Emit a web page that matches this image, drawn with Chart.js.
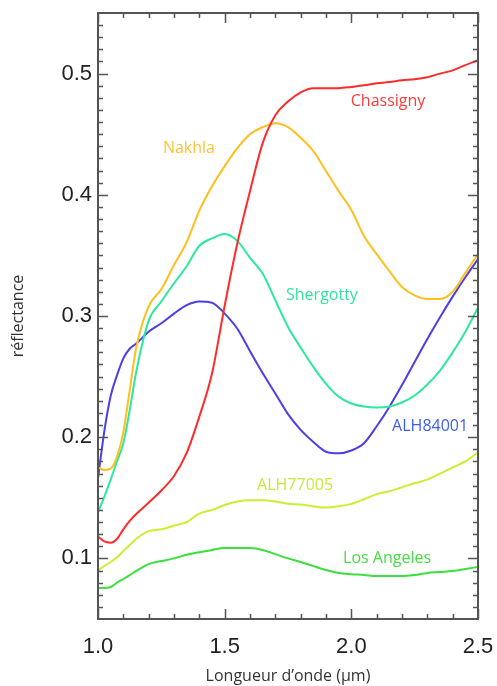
<!DOCTYPE html>
<html lang="fr">
<head>
    <meta charset="UTF-8">
    <title>Réflectance des météorites martiennes</title>
    <script src="https://cdn.jsdelivr.net/npm/chart.js"></script>
    <style>
        body { margin: 0; background: white; }
        canvas { display: block; }
    </style>
</head>
<body>
<canvas id="specChart" width="497" height="686"></canvas>

<script>
    // Wavelengths (µm) and reflectance of each meteorite
    const wavelengths = [1.00, 1.025, 1.05, 1.075, 1.10, 1.125, 1.15, 1.20, 1.25, 1.30, 1.35, 1.40, 1.45, 1.50,
        1.55, 1.60, 1.65, 1.70, 1.75, 1.80, 1.85, 1.90, 1.95, 2.00, 2.05, 2.10, 2.15, 2.20, 2.25, 2.30, 2.35,
        2.40, 2.45, 2.50];
    const chassigny = [0.118, 0.114, 0.113, 0.116, 0.124, 0.131, 0.1365, 0.146, 0.156, 0.168, 0.187, 0.217, 0.2525,
        0.3085, 0.360, 0.403, 0.4426, 0.4657, 0.477, 0.4846, 0.488, 0.488, 0.488, 0.489, 0.4904, 0.492, 0.493,
        0.4945, 0.4953, 0.497, 0.500, 0.5027, 0.507, 0.511];
    const nakhla = [0.175, 0.173, 0.174, 0.184, 0.204, 0.2385, 0.273, 0.308, 0.322, 0.342, 0.361, 0.387, 0.407,
        0.4237, 0.4385, 0.450, 0.4558, 0.459, 0.4558, 0.447, 0.436, 0.4196, 0.403, 0.3875, 0.366, 0.351, 0.337,
        0.324, 0.317, 0.314, 0.314, 0.320, 0.3356, 0.351];
    const shergotty = [0.138, 0.151, 0.165, 0.180, 0.195, 0.222, 0.253, 0.296, 0.312, 0.327, 0.341, 0.358, 0.364,
        0.3677, 0.362, 0.348, 0.335, 0.313, 0.291, 0.274, 0.258, 0.244, 0.2335, 0.2278, 0.2253, 0.2245, 0.2253,
        0.2286, 0.2344, 0.2435, 0.255, 0.270, 0.287, 0.307];
    const alh84001 = [0.166, 0.205, 0.234, 0.251, 0.265, 0.273, 0.277, 0.287, 0.294, 0.302, 0.309, 0.312, 0.311,
        0.302, 0.2895, 0.271, 0.253, 0.236, 0.219, 0.206, 0.196, 0.188, 0.1867, 0.189, 0.195, 0.209, 0.225,
        0.243, 0.262, 0.281, 0.299, 0.316, 0.332, 0.347];
    const alh77005 = [0.090, 0.0937, 0.097, 0.101, 0.106, 0.111, 0.116, 0.1225, 0.124, 0.127, 0.130, 0.137, 0.140,
        0.144, 0.147, 0.148, 0.148, 0.147, 0.145, 0.1445, 0.143, 0.142, 0.143, 0.145, 0.1488, 0.153, 0.1554,
        0.1587, 0.162, 0.165, 0.170, 0.175, 0.180, 0.1875];
    const losAngeles = [0.0756, 0.0756, 0.0764, 0.080, 0.083, 0.0862, 0.0895, 0.0953, 0.0978, 0.100, 0.103, 0.105,
        0.107, 0.1085, 0.1085, 0.1085, 0.107, 0.1035, 0.100, 0.097, 0.0936, 0.0904, 0.088, 0.087, 0.0863, 0.0854,
        0.0854, 0.0854, 0.0863, 0.088, 0.0888, 0.0896, 0.0912, 0.093];

    const xTicks = [1.0, 1.5, 2.0, 2.5];
    const yTicks = [0.1, 0.2, 0.3, 0.4, 0.5];

    // name, values, line colour, label colour, label spot (µm, reflectance)
    const series = [
        ['Chassigny', chassigny, '#ff2b2b', '#ff3a3a', 2.145, 0.477],
        ['Nakhla', nakhla, '#ffbf1f', '#ffc233', 1.359, 0.438],
        ['Shergotty', shergotty, '#2ee89c', '#33e39c', 1.884, 0.317],
        ['ALH84001', alh84001, '#4b3fe6', '#3d5ee8', 2.311, 0.209],
        ['ALH77005', alh77005, '#c8f032', '#c6ea3a', 1.778, 0.160],
        ['Los Angeles', losAngeles, '#3ce03c', '#44dd44', 2.141, 0.100]
    ];

    // Box frame with inward ticks on all four sides
    const frameTicks = {
        id: 'frameTicks',
        afterDraw(chart) {
            const {ctx, chartArea: a, scales: {x, y}} = chart;
            ctx.save();
            ctx.strokeStyle = '#555';
            ctx.lineWidth = 1.5;
            ctx.beginPath();
            for (let i = 0; i <= 15; i++) {
                const v = 1 + i * 0.1;
                const px = Math.round(x.getPixelForValue(v)) + 0.5;
                const len = (i % 5 === 0) ? 10 : 5;
                ctx.moveTo(px, a.bottom); ctx.lineTo(px, a.bottom - len);
                ctx.moveTo(px, a.top); ctx.lineTo(px, a.top + len);
            }
            for (let i = 6; i <= 54; i++) {
                const v = i / 100;
                const py = Math.round(y.getPixelForValue(v)) + 0.5;
                const len = (i % 10 === 0) ? 10 : 5;
                ctx.moveTo(a.left, py); ctx.lineTo(a.left + len, py);
                ctx.moveTo(a.right, py); ctx.lineTo(a.right - len, py);
            }
            ctx.stroke();
            ctx.lineWidth = 2;
            ctx.strokeRect(a.left, a.top, a.right - a.left, a.bottom - a.top);

            // curve names
            ctx.font = '16px "Open Sans"';
            ctx.textAlign = 'center';
            ctx.textBaseline = 'middle';
            series.forEach(s => {
                ctx.fillStyle = s[3];
                ctx.fillText(s[0], x.getPixelForValue(s[4]), y.getPixelForValue(s[5]));
            });
            ctx.restore();
        }
    };

    new Chart(document.getElementById('specChart'), {
        type: 'line',
        data: {
            datasets: series.map(s => ({
                label: s[0],
                data: wavelengths.map((w, i) => ({x: w, y: s[1][i]})),
                borderColor: s[2],
                borderWidth: 2,
                pointRadius: 0,
                cubicInterpolationMode: 'monotone',
                fill: false
            }))
        },
        options: {
            responsive: false,
            animation: false,
            layout: { padding: { top: 13, right: 19, left: 0, bottom: 0 } },
            plugins: { legend: { display: false }, tooltip: { enabled: false } },
            scales: {
                x: {
                    type: 'linear',
                    min: 1.0,
                    max: 2.5,
                    afterBuildTicks: s => { s.ticks = xTicks.map(v => ({value: v})); },
                    afterFit: s => { s.height = 67; s.paddingLeft = 0; s.paddingRight = 0; },
                    grid: { display: false, drawTicks: false },
                    border: { display: false },
                    ticks: {
                        padding: 15,
                        color: '#222',
                        font: { family: '"Liberation Sans", Arial, sans-serif', size: 22 },
                        callback: v => v.toFixed(1)
                    },
                    title: {
                        display: true,
                        text: 'Longueur d’onde (µm)',
                        color: '#333',
                        padding: { top: 3, bottom: 0 },
                        font: { family: '"Open Sans"', size: 16 }
                    }
                },
                y: {
                    min: 0.05,
                    max: 0.55,
                    afterBuildTicks: s => { s.ticks = yTicks.map(v => ({value: v})); },
                    afterFit: s => { s.width = 98; s.paddingTop = 0; s.paddingBottom = 0; },
                    grid: { display: false, drawTicks: false },
                    border: { display: false },
                    ticks: {
                        padding: 6,
                        color: '#222',
                        font: { family: '"Liberation Sans", Arial, sans-serif', size: 22 },
                        callback: v => v.toFixed(1)
                    },
                    title: {
                        display: true,
                        text: 'réflectance',
                        color: '#333',
                        padding: { top: 9, bottom: 0 },
                        font: { family: '"Open Sans"', size: 16 }
                    }
                }
            }
        },
        plugins: [frameTicks]
    });
</script>
</body>
</html>
